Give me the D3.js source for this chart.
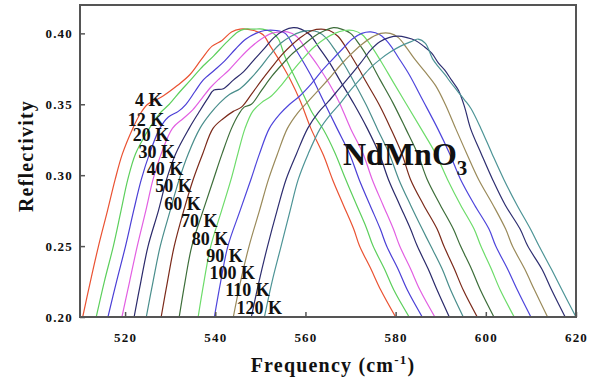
<!DOCTYPE html>
<html>
<head>
<meta charset="utf-8">
<script src="https://cdn.jsdelivr.net/npm/d3@7"></script>
<style>
  body { margin: 0; background: #fff; }
  svg { display: block; }
  text { font-family: "Liberation Serif", "Times New Roman", serif; font-weight: bold; fill: #111; }
</style>
</head>
<body>
<svg id="chart" width="599" height="383"></svg>
<script>
// Far-infrared reflectivity of NdMnO3 at several temperatures: [frequency (cm-1), reflectivity]
const temperatures = ["4 K", "12 K", "20 K", "30 K", "40 K", "50 K", "60 K", "70 K", "80 K", "90 K", "100 K", "110 K", "120 K"];

const r4K = [[510.6,0.200],[512.3,0.225],[514.1,0.250],[516.1,0.275],[517.8,0.297],[519.4,0.315],[521.7,0.333],[523.3,0.343],[525.0,0.350],[526.8,0.353],[528.5,0.356],[531.5,0.363],[534.4,0.371],[537.0,0.382],[539.3,0.391],[541.5,0.395],[543.6,0.401],[545.5,0.403],[548.5,0.402],[550.6,0.399],[552.2,0.391],[554.4,0.380],[556.7,0.367],[558.9,0.352],[561.2,0.333],[564.0,0.314],[566.0,0.297],[568.4,0.279],[570.7,0.262],[572.0,0.250],[574.5,0.234],[576.7,0.219],[580.0,0.200]];
const r12K = [[513.6,0.200],[515.4,0.225],[517.4,0.250],[519.1,0.275],[520.6,0.297],[522.3,0.315],[524.8,0.330],[526.4,0.338],[527.8,0.344],[529.8,0.350],[532.2,0.359],[534.5,0.367],[536.7,0.375],[539.6,0.384],[542.6,0.394],[545.0,0.401],[546.5,0.403],[548.5,0.403],[550.5,0.403],[552.5,0.401],[554.0,0.396],[555.4,0.384],[557.5,0.370],[559.5,0.357],[561.5,0.344],[564.0,0.332],[566.5,0.316],[568.8,0.298],[571.2,0.280],[573.5,0.263],[575.0,0.250],[577.5,0.234],[579.6,0.219],[583.0,0.200]];
const r20K = [[516.2,0.200],[518.1,0.225],[520.1,0.250],[521.9,0.275],[523.6,0.297],[525.4,0.315],[527.7,0.333],[529.6,0.341],[531.8,0.345],[533.5,0.350],[535.5,0.359],[537.3,0.367],[539.8,0.374],[542.2,0.381],[544.5,0.389],[546.8,0.396],[549.0,0.400],[551.0,0.402],[553.5,0.402],[555.5,0.400],[557.2,0.392],[559.3,0.381],[561.6,0.368],[563.9,0.353],[567.0,0.333],[569.8,0.315],[571.9,0.297],[574.3,0.279],[576.6,0.262],[578.0,0.250],[580.5,0.234],[582.6,0.219],[585.9,0.200]];
const r30K = [[519.3,0.200],[521.0,0.225],[522.7,0.250],[524.6,0.275],[526.2,0.297],[528.0,0.315],[530.5,0.333],[532.9,0.340],[535.0,0.346],[537.0,0.354],[539.0,0.362],[540.9,0.368],[543.0,0.374],[545.3,0.382],[547.8,0.390],[550.2,0.396],[552.5,0.400],[554.5,0.401],[556.0,0.401],[558.0,0.398],[560.3,0.388],[562.8,0.377],[565.2,0.365],[567.4,0.352],[570.0,0.333],[572.8,0.315],[574.8,0.297],[577.2,0.279],[579.5,0.262],[580.9,0.250],[583.3,0.234],[585.4,0.219],[588.7,0.200]];
const r40K = [[522.0,0.200],[523.5,0.225],[525.1,0.250],[527.4,0.275],[529.2,0.297],[531.2,0.315],[534.2,0.333],[536.3,0.344],[538.3,0.354],[539.7,0.360],[541.8,0.361],[544.0,0.367],[546.3,0.373],[548.5,0.381],[550.8,0.389],[553.0,0.397],[555.2,0.402],[557.3,0.404],[559.0,0.403],[561.0,0.399],[563.0,0.390],[565.4,0.379],[567.8,0.366],[570.8,0.350],[573.7,0.333],[576.5,0.314],[578.4,0.297],[580.9,0.279],[583.3,0.262],[584.8,0.250],[587.2,0.234],[589.2,0.219],[591.9,0.200]];
const r50K = [[524.7,0.200],[526.2,0.225],[527.8,0.250],[530.0,0.275],[532.0,0.297],[534.0,0.315],[536.6,0.333],[538.8,0.343],[541.0,0.351],[543.2,0.357],[545.5,0.361],[547.8,0.368],[550.0,0.376],[552.2,0.385],[554.5,0.393],[556.8,0.398],[559.0,0.401],[561.0,0.402],[562.8,0.401],[564.5,0.397],[566.4,0.389],[568.6,0.378],[570.9,0.365],[573.4,0.350],[575.9,0.333],[578.6,0.315],[580.7,0.297],[583.3,0.279],[585.9,0.262],[587.8,0.250],[590.3,0.234],[592.2,0.219],[595.0,0.200]];
const r60K = [[528.0,0.200],[529.4,0.225],[530.9,0.250],[533.0,0.275],[535.1,0.297],[537.2,0.315],[539.5,0.333],[541.8,0.340],[544.0,0.345],[545.8,0.348],[548.0,0.357],[550.3,0.367],[552.5,0.376],[554.8,0.385],[557.0,0.392],[559.3,0.398],[561.5,0.402],[563.5,0.403],[565.3,0.402],[567.2,0.398],[569.2,0.389],[571.3,0.378],[573.6,0.365],[576.3,0.350],[578.9,0.333],[581.4,0.315],[583.3,0.297],[586.2,0.279],[589.2,0.262],[590.7,0.250],[593.0,0.234],[595.0,0.219],[598.1,0.200]];
const r70K = [[532.0,0.200],[533.3,0.225],[534.8,0.250],[537.3,0.275],[539.6,0.297],[541.5,0.315],[543.6,0.333],[545.2,0.343],[546.4,0.348],[548.0,0.350],[550.3,0.360],[552.6,0.370],[554.8,0.378],[557.2,0.386],[559.6,0.392],[562.0,0.398],[564.3,0.402],[566.2,0.404],[568.0,0.403],[570.0,0.400],[572.0,0.392],[574.2,0.381],[576.6,0.367],[579.4,0.351],[582.2,0.333],[584.9,0.315],[587.0,0.297],[589.9,0.279],[592.8,0.262],[594.4,0.250],[596.8,0.234],[598.8,0.219],[601.8,0.200]];
const r80K = [[536.2,0.200],[537.5,0.225],[539.0,0.250],[541.4,0.275],[543.5,0.297],[545.0,0.315],[546.6,0.333],[548.3,0.345],[550.2,0.351],[552.5,0.356],[554.8,0.364],[557.0,0.373],[559.4,0.382],[561.8,0.390],[564.2,0.396],[566.5,0.400],[568.6,0.402],[570.6,0.402],[572.6,0.399],[574.6,0.391],[576.8,0.380],[579.4,0.366],[582.4,0.350],[585.6,0.333],[588.9,0.315],[591.5,0.297],[594.4,0.279],[597.4,0.262],[598.9,0.250],[601.2,0.234],[603.2,0.219],[606.3,0.200]];
const r90K = [[539.8,0.200],[541.2,0.225],[542.8,0.250],[545.5,0.275],[547.9,0.297],[549.8,0.315],[552.0,0.333],[554.3,0.343],[556.5,0.350],[558.8,0.356],[561.2,0.364],[563.5,0.373],[565.8,0.381],[568.2,0.389],[570.4,0.396],[572.5,0.400],[574.5,0.401],[576.5,0.399],[578.5,0.393],[580.6,0.383],[583.0,0.371],[586.0,0.353],[589.3,0.333],[592.0,0.315],[594.4,0.297],[597.5,0.279],[600.7,0.262],[602.2,0.250],[604.8,0.234],[607.0,0.219],[610.0,0.200]];
const r100K = [[544.0,0.200],[545.6,0.225],[547.5,0.250],[549.8,0.275],[551.8,0.297],[553.8,0.315],[556.0,0.333],[558.3,0.344],[560.6,0.352],[562.9,0.360],[565.2,0.368],[567.6,0.377],[570.0,0.385],[572.4,0.392],[574.6,0.397],[576.7,0.400],[578.8,0.400],[580.6,0.397],[582.4,0.390],[584.2,0.382],[586.5,0.373],[588.9,0.363],[591.0,0.350],[593.3,0.333],[595.8,0.315],[598.4,0.297],[601.6,0.279],[604.4,0.262],[605.9,0.250],[608.6,0.234],[610.8,0.219],[613.7,0.200]];
const r110K = [[548.0,0.200],[549.7,0.225],[551.6,0.250],[553.7,0.275],[555.7,0.297],[558.0,0.315],[560.5,0.333],[562.8,0.344],[565.1,0.352],[567.5,0.361],[569.9,0.370],[572.2,0.379],[574.4,0.388],[576.5,0.394],[578.5,0.397],[580.5,0.398],[582.5,0.397],[584.4,0.395],[586.2,0.391],[588.0,0.386],[589.5,0.379],[590.9,0.374],[592.4,0.367],[593.9,0.360],[595.3,0.348],[596.6,0.333],[599.0,0.315],[601.5,0.297],[604.3,0.279],[607.6,0.262],[609.3,0.250],[612.4,0.234],[614.6,0.219],[617.6,0.200]];
const r120K = [[550.9,0.200],[552.6,0.225],[554.6,0.250],[556.6,0.275],[558.4,0.297],[560.6,0.315],[563.3,0.333],[565.6,0.343],[567.8,0.351],[570.0,0.360],[572.2,0.368],[574.5,0.376],[576.7,0.382],[578.9,0.387],[581.1,0.391],[583.3,0.394],[585.0,0.396],[586.6,0.393],[588.2,0.382],[589.6,0.376],[590.9,0.371],[592.3,0.365],[593.8,0.359],[595.3,0.353],[596.7,0.347],[598.9,0.333],[601.4,0.315],[604.0,0.297],[606.9,0.279],[609.9,0.262],[611.8,0.250],[614.5,0.234],[616.9,0.219],[620.0,0.200]];

const spectra = [r4K, r12K, r20K, r30K, r40K, r50K, r60K, r70K, r80K, r90K, r100K, r110K, r120K];

const xTicks = [520, 540, 560, 580, 600, 620];
const yTicks = [0.20, 0.25, 0.30, 0.35, 0.40];

// ---- styling and layout ----
const lineColors = ["#ea5232", "#5ccf5c", "#4b3fd6", "#e25fe2", "#2b2a6b", "#4a8e8c", "#7b2a1a",
                    "#3d6e3a", "#6ddc6a", "#4e45dc", "#9a8a5a", "#2e2e70", "#4d9496"];
// where each temperature label sits, in axis units (left edge, baseline)
const labelAnchors = [[522.2,0.3488],[520.6,0.3347],[521.7,0.3241],[523.0,0.3121],[524.8,0.3001],
                      [526.7,0.2881],[528.7,0.2754],[532.4,0.2636],[534.8,0.2509],[538.0,0.2386],
                      [538.7,0.2266],[542.2,0.2150],[544.7,0.2021]];

const plot = { left: 80, right: 576, top: 5, bottom: 317 };
const svg = d3.select("#chart");

const x = d3.scaleLinear().domain([510, 620]).range([plot.left, plot.right]);
const y = d3.scaleLinear().domain([0.20, 0.42]).range([plot.bottom, plot.top]);

svg.append("defs").append("clipPath").attr("id", "plot-clip")
  .append("rect")
  .attr("x", plot.left).attr("y", plot.top)
  .attr("width", plot.right - plot.left).attr("height", plot.bottom - plot.top);

// spectra
const line = d3.line()
  .x(d => x(d[0]))
  .y(d => y(d[1]))
  .curve(d3.curveCatmullRom.alpha(0.5));

svg.append("g").attr("clip-path", "url(#plot-clip)")
  .selectAll("path")
  .data(spectra)
  .join("path")
  .attr("d", line)
  .attr("fill", "none")
  .attr("stroke", (d, i) => lineColors[i])
  .attr("stroke-width", 1.2)
  .attr("stroke-linejoin", "round");

// axes with inward ticks
const xAxis = d3.axisBottom(x).tickValues(xTicks).tickFormat(d3.format("d"))
  .tickSizeInner(-5).tickSizeOuter(0).tickPadding(16);
const yAxis = d3.axisLeft(y).tickValues(yTicks).tickFormat(d3.format(".2f"))
  .tickSizeInner(-5).tickSizeOuter(0).tickPadding(7);

const gx = svg.append("g").attr("transform", `translate(0,${plot.bottom})`).call(xAxis);
const gy = svg.append("g").attr("transform", `translate(${plot.left},0)`).call(yAxis);
[gx, gy].forEach(g => {
  g.select(".domain").remove();
  g.selectAll(".tick line").attr("stroke", "#555").attr("stroke-width", 1.5);
  g.selectAll(".tick text")
    .attr("fill", "#111")
    .style("font-family", '"Liberation Serif", "Times New Roman", serif')
    .style("font-weight", "bold")
    .style("font-size", "13px")
    .style("letter-spacing", "1.2px");
});

// frame
svg.append("rect")
  .attr("x", plot.left).attr("y", plot.top)
  .attr("width", plot.right - plot.left).attr("height", plot.bottom - plot.top)
  .attr("fill", "none").attr("stroke", "#555").attr("stroke-width", 2);

// temperature labels
svg.append("g").selectAll("text")
  .data(temperatures)
  .join("text")
  .attr("x", (d, i) => x(labelAnchors[i][0]))
  .attr("y", (d, i) => y(labelAnchors[i][1]))
  .style("font-size", "18px")
  .text(d => d);

// compound name
const name = svg.append("text")
  .attr("x", 343).attr("y", 165)
  .style("font-size", "32px");
name.append("tspan").text("NdMnO");
name.append("tspan").attr("dy", 10).style("font-size", "21px").text("3");

// axis titles
const xt = svg.append("text")
  .attr("x", 333).attr("y", 372)
  .attr("text-anchor", "middle")
  .style("font-size", "20px")
  .style("letter-spacing", "1.2px");
xt.append("tspan").text("Frequency (cm");
xt.append("tspan").attr("dy", -8).style("font-size", "13px").text("-1");
xt.append("tspan").attr("dy", 8).text(")");

svg.append("text")
  .attr("transform", "translate(33,156) rotate(-90)")
  .attr("text-anchor", "middle")
  .style("font-size", "20px")
  .style("letter-spacing", "1.2px")
  .text("Reflectivity");
</script>
</body>
</html>
